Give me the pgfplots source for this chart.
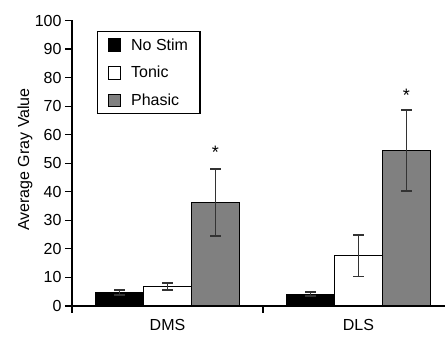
\documentclass[border=0pt]{standalone}
\usepackage{pgfplots}
\pgfplotsset{compat=1.18}
\usepackage{fontspec}
\setmainfont{Liberation Sans}
\begin{document}
\begin{tikzpicture}[x=1pt,y=1pt]
\pgfplotsset{
  mylegend/.style={legend image code/.code={\draw[##1,line width=1pt] (0pt,-6.3pt) rectangle (12.6pt,6.3pt);}},
}
\begin{axis}[
  at={(72pt,31pt)}, anchor=south west,
  scale only axis, width=373pt, height=285.5pt,
  xmin=-0.5, xmax=1.4529, ymin=0, ymax=100,
  axis y line*=left, axis x line*=bottom,
  axis line style={line width=1.1pt, black},
  ybar=0pt, bar width=48pt,
  ytick={0,10,...,100},
  ytick align=outside, xtick align=outside,
  major tick length=7pt,
  tick style={line width=1.1pt, black},
  xtick={0,1}, xticklabels={DMS,DLS},
  x tick style={draw=none},
  extra x ticks={-0.5,0.5}, extra x tick labels={},
  extra x tick style={x tick style={draw=black}},
  xticklabel style={yshift=-3pt},
  font=\fontsize{16}{19}\selectfont,
  /pgf/number format/assume math mode=true,
  ylabel={Average Gray Value},
  every axis y label/.style={at={(axis description cs:-0.126,0.513)}, rotate=90, anchor=center},
  legend style={at={(axis description cs:0.067,0.963)}, anchor=north west, draw=black, line width=1.1pt,
    font=\fontsize{16}{19}\selectfont, inner xsep=10pt, inner ysep=5pt, row sep=10.5pt,
    /tikz/every odd column/.append style={column sep=8pt}},
  legend cell align=left,
  error bars/error bar style={line width=1.6pt, black!80},
  error bars/error mark options={rotate=90, mark size=5.3pt, line width=1.6pt, black!80},
]
\addplot[fill=black, draw=black, line width=1pt, mylegend,
  error bars/.cd, y dir=both, y explicit]
  coordinates {(0,4.7) +- (0,0.9) (1,4.2) +- (0,0.8)};
\addplot[fill=white, draw=black, line width=1pt, mylegend,
  error bars/.cd, y dir=both, y explicit]
  coordinates {(0,6.9) +- (0,1.2) (1,17.6) +- (0,7.2)};
\addplot[fill=gray, draw=black, line width=1pt, mylegend,
  error bars/.cd, y dir=both, y explicit]
  coordinates {(0,36.3) +- (0,11.7) (1,54.4) +- (0,14.2)};
\legend{No Stim,Tonic,Phasic}
\node[anchor=base, font=\fontsize{18}{20}\selectfont] at (axis cs:0.2513,51.6) {*};
\node[anchor=base, font=\fontsize{18}{20}\selectfont] at (axis cs:1.2513,71.8) {*};
\end{axis}
\pgfresetboundingbox
\path[use as bounding box] (0,0) rectangle (445pt,337pt);
\end{tikzpicture}
\end{document}
